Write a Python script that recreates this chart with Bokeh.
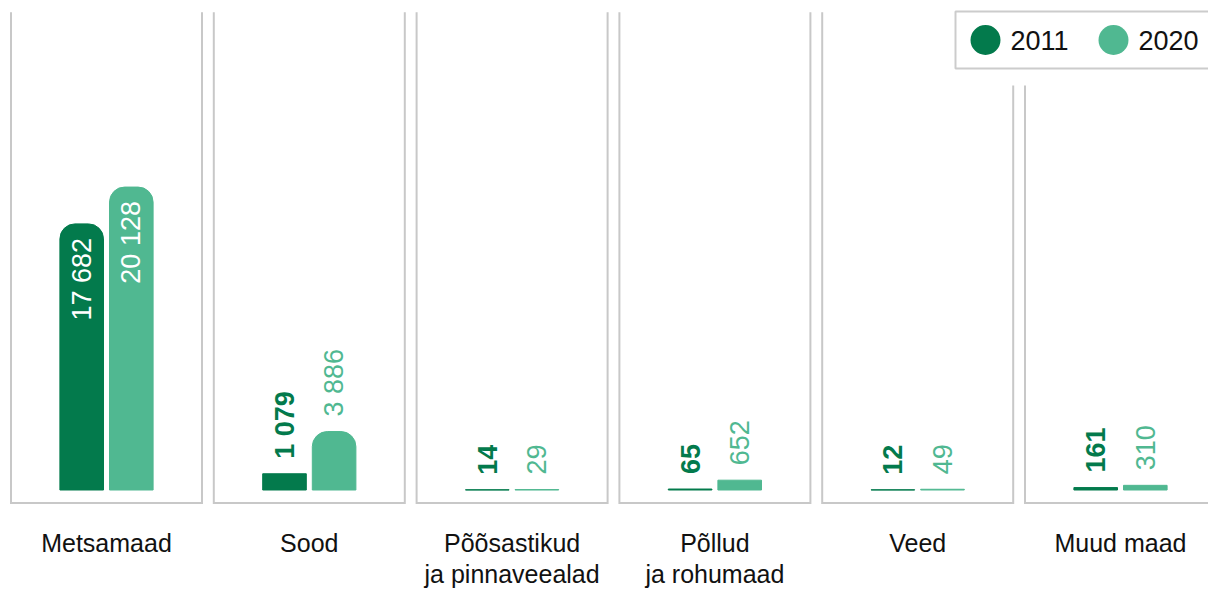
import math
from bokeh.plotting import figure
from bokeh.models import Range1d, ColumnDataSource
from bokeh.core.properties import value
from bokeh.embed import file_html
from bokeh.resources import INLINE

# ---- data ----
categories = ["Metsamaad", "Sood", "Põõsastikud\nja pinnaveealad",
              "Põllud\nja rohumaad", "Veed", "Muud maad"]
series_names = ["2011", "2020"]
v2011 = [17682, 1079, 14, 65, 12, 161]
v2020 = [20128, 3886, 29, 652, 49, 310]
colors = ["#037A4C", "#50B891"]

FONT = "Liberation Sans"

# ---- layout geometry (page pixels) ----
ORG = 0           # page offset of the canvas
W, H = 1208, 590
PX_X0 = 106.0     # page x of first group centre
PITCH = 202.8     # px between groups
BASE = 489.5      # page y of value 0
K = 0.01505       # px per unit


def X(px):
    return (px - PX_X0) / PITCH


def Y(py):
    return (BASE - py) / K


p = figure(width=W, height=H, output_backend="svg", toolbar_location=None,
           x_range=Range1d(X(ORG), X(ORG + W)), y_range=Range1d(Y(ORG + H), Y(ORG)),
           x_axis_type=None, y_axis_type=None, min_border=0,
           outline_line_color=None, background_fill_color="white",
           border_fill_color="white")
p.grid.visible = False

# ---- panel frames ----
LEG_L, LEG_R, LEG_T, LEG_B = 955, 1240, 11, 68
half = 95.5 / PITCH
xs, ys = [], []
for i in range(len(categories)):
    lx, rx = i - half, i + half
    tl = Y(85) if (PX_X0 + PITCH * lx) > LEG_L else Y(11.7)
    tr = Y(85) if (PX_X0 + PITCH * rx) > LEG_L else Y(11.7)
    xs.append([lx, lx, rx, rx])
    ys.append([tl, Y(502.5), Y(502.5), tr])
p.multi_line(xs=xs, ys=ys, line_color="#C8C8C8", line_width=2,
             line_join="miter")

# ---- bars ----
off = 24.8 / PITCH
bw = 43.6 / PITCH
for s, vals in enumerate([v2011, v2020]):
    dx = -off if s == 0 else off
    rnd = dict(x=[], top=[])
    flat = dict(x=[], top=[])
    for i, v in enumerate(vals):
        d = rnd if v * K > 30 else flat
        d["x"].append(i + dx)
        d["top"].append(v)
    if rnd["x"]:
        p.vbar(x="x", top="top", bottom=0, width=bw, source=ColumnDataSource(rnd),
               fill_color=colors[s], line_color=colors[s], line_width=1,
               border_radius=(15, 15, 0, 0))
    if flat["x"]:
        p.vbar(x="x", top="top", bottom=0, width=bw, source=ColumnDataSource(flat),
               fill_color=colors[s], line_color=colors[s], line_width=1)

# ---- value labels ----
for s, vals in enumerate([v2011, v2020]):
    dx = -off if s == 0 else off
    for i, v in enumerate(vals):
        label = f"{v:,}".replace(",", " ")
        if v * K > 100:
            p.text(x=[i + dx], y=[v - 14 / K], text=[label], angle=math.pi / 2,
                   text_align="right", text_baseline="middle",
                   text_color="white", text_font=value(FONT),
                   text_font_size="27px")
        else:
            p.text(x=[i + dx], y=[v + 15 / K], text=[label], angle=math.pi / 2,
                   text_align="left", text_baseline="middle",
                   text_color=colors[s], text_font=value(FONT),
                   text_font_size="27px",
                   text_font_style="bold" if s == 0 else "normal")

# ---- category labels ----
p.text(x=list(range(len(categories))), y=[Y(528)] * len(categories),
       text=categories, text_align="center", text_baseline="top",
       text_color="#111111", text_font=value(FONT), text_font_size="25px",
       text_line_height=1.14)

# ---- legend ----
p.quad(left=[X(LEG_L)], right=[X(LEG_R)], top=[Y(LEG_T)], bottom=[Y(LEG_B)],
       fill_color="white", line_color="#CCCCCC", line_width=2)
leg_cx = [985, 1113]
leg_tx = [1010, 1138]
p.scatter(x=[X(c) for c in leg_cx], y=[Y(39.5)] * 2, size=30,
          fill_color=colors, line_color=None)
p.text(x=[X(t) for t in leg_tx], y=[Y(40)] * 2, text=series_names,
       text_align="left", text_baseline="middle", text_color="#111111",
       text_font=value(FONT), text_font_size="27px")

open("out.html", "w").write(file_html(p, INLINE))
